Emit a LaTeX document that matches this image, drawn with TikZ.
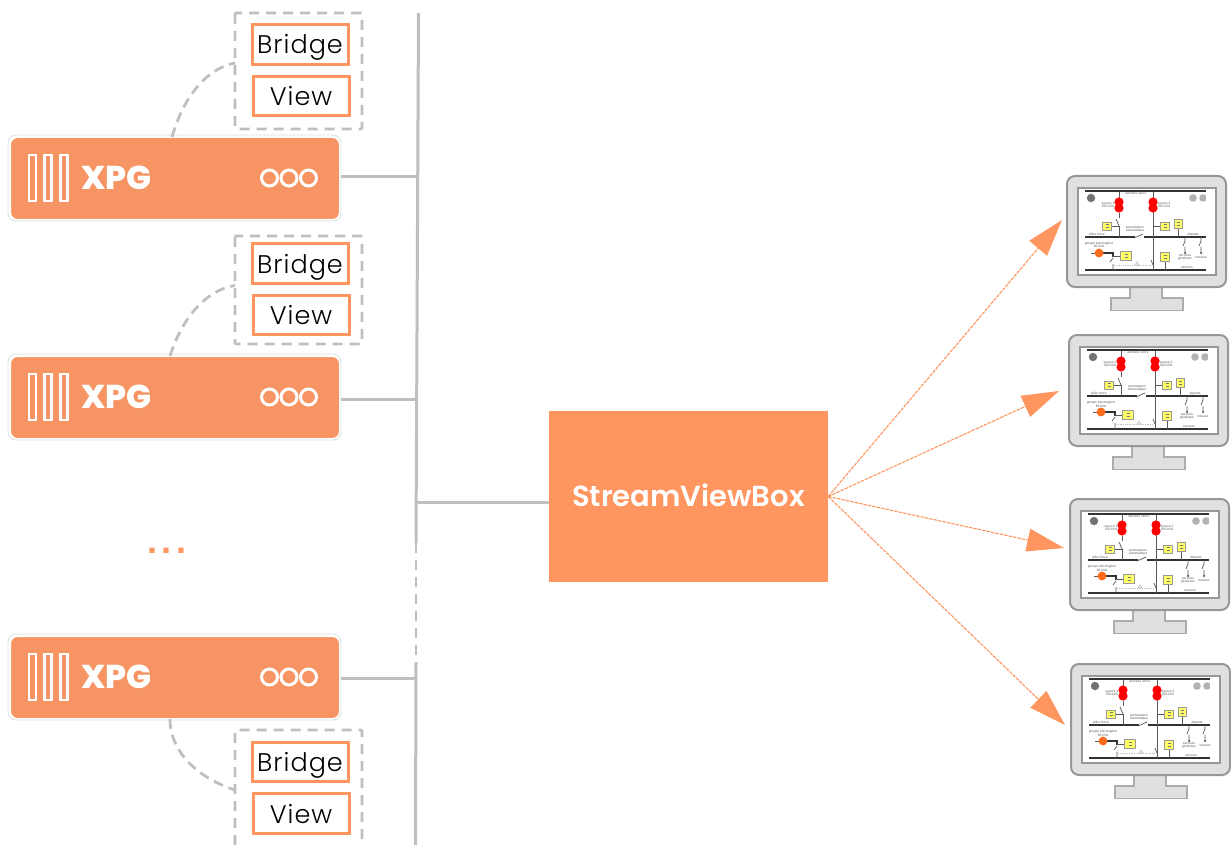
\documentclass[tikz,border=0pt]{standalone}
\usepackage{fontspec}
\usetikzlibrary{arrows.meta}
\setmainfont{Poppins}
\newfontfamily\tinyfont{Liberation Sans}
\newfontfamily\dotfont{Liberation Sans}
\newfontfamily\partfont[LetterSpace=4]{Poppins Light}
\newfontfamily\heavyfont{Poppins ExtraBold}
\newfontfamily\streamfont{Poppins SemiBold}
\definecolor{svb}{HTML}{FF9660}
\definecolor{srv}{HTML}{F79463}
\definecolor{ln}{HTML}{BFBFBF}
\definecolor{mon}{HTML}{E0E0E0}
\definecolor{monb}{HTML}{979797}
\definecolor{yel}{HTML}{FFFF66}
\tikzset{
  x=1pt,y=-1pt,
  wire/.style={draw=ln,line width=3pt},
  dashwire/.style={draw=ln,line width=2.8pt,dash pattern=on 10pt off 7pt},
  server/.style={draw=white,fill=srv,rounded corners=7pt,line width=1pt,minimum width=329pt,minimum height=82pt,inner sep=0pt},
  halo/.style={draw=black!13,line width=.8pt,rounded corners=8pt},
  part/.style={draw=svb,fill=white,line width=3pt,minimum width=96pt,minimum height=39.5pt,inner sep=0pt,font=\partfont\fontsize{25.5}{25.5}\selectfont,text height=19pt,text depth=0pt,text=black},
  xpgtext/.style={text=white,font=\heavyfont\fontsize{33}{33}\selectfont,inner sep=0pt},
  stream/.style={arrows={-Triangle[length=37pt,width=23pt]},draw=svb,line width=1.1pt,dash pattern=on 3.5pt off 1pt},
  tinytext/.style={font=\tinyfont\fontsize{3.3}{3.6}\selectfont,text=black!65,inner sep=0pt,align=center},
  schem/.style={draw=black!80,line width=1.1pt},
  schemthin/.style={draw=black!65,line width=.7pt},
  yelbox/.style={draw=black!40,fill=yel,line width=.6pt,inner sep=0pt,align=center,font=\fontsize{2}{2.6}\selectfont},
}
\newcommand\yelmark{\textcolor{black!55}{\rule{3pt}{.5pt}}\\\textcolor{black!55}{\rule{3pt}{.5pt}}}
% XPG server: #1 node name, #2 top y
\newcommand\xpgserver[2]{
  \draw[halo] (8,#2-2) rectangle (341,#2+84);
  \node[server,anchor=north west] (#1) at (10,#2) {};
  \foreach \bx in {28,43.5,59.5}
    \draw[white,line width=2.6pt] (\bx+1,#2+18) rectangle (\bx+8,#2+64);
  \node[xpgtext] at (116.5,#2+41) {XPG};
  \foreach \cx in {269.5,289,308.5}
    \draw[white,line width=3pt] (\cx,#2+41) circle (8);
}
% monitor: #1 x, #2 y
\newcommand\screenmon[2]{
\begin{scope}[shift={(#1,#2)}]
  \path[fill=mon,draw=monb!80,line width=1.6pt] (63,111) -- (95,111) -- (95,122) -- (116,122) -- (116,134.5) -- (44,134.5) -- (44,122) -- (63,122) -- cycle;
  \path[fill=mon,draw=monb,line width=2pt,rounded corners=8pt] (0,0) rectangle (159,111);
  \path[fill=white,draw=monb,line width=2.6pt] (11,12) rectangle (149,99);
  % buses
  \draw[schem] (18,15) -- (139,15);
  \draw[schem] (18,61) -- (68,61);
  \draw[schemthin] (67,62) -- (76,58);
  \draw[schem] (77,61) -- (139,61);
  \draw[schem] (18,94) -- (139,94);
  % feeders
  \draw[schemthin] (52,15) -- (52,28) (52,37) -- (52,42) (52,50) -- (52,61);
  \draw[schemthin] (52,50) -- (49,43);
  \draw[schemthin] (86,15) -- (86,94);
  \draw[schemthin] (44.5,50) -- (52,50);
  \draw[schemthin] (86,50) -- (93,50);
  \draw[schemthin] (111,52) -- (111,61);
  \draw[schemthin] (118,61) -- (118,65) -- (116,70) (118,71) -- (118,77);
  \draw[schemthin] (134,61) -- (134,65) -- (132,70) (134,71) -- (134,77);
  \fill[black!80] (52,15) circle (1.2) (86,15) circle (1.2) (118,77) circle (1) (134,77) circle (1);
  % sources
  \fill[red] (52,26) circle (4.6) (52,32) circle (4.6) (86,26) circle (4.6) (86,32) circle (4.6);
  % buttons
  \fill[black!55] (24,22) circle (4.2);
  \fill[black!30] (126,22) circle (3.8) (136,22) circle (3.8);
  \fill[white] (139,17) rectangle (142,27);
  % generator
  \draw[schemthin] (24,77) -- (28,77);
  \draw[schem] (32,77) -- (46,77) -- (46,81);
  \draw[schemthin] (46,82) -- (43,86) (46,88) -- (46,94);
  \draw[schemthin] (46,80) -- (53,80);
  \draw[black!25,line width=.8pt,densely dotted] (47,89) -- (84,89);
  \draw[black!35,line width=.4pt] (68,89) -- (70,86) -- (72,89) -- cycle;
  \draw[schemthin] (84,84) -- (86,89);
  \fill[orange!70!red!90!white] (32,77) circle (4.4);
  \draw[schemthin] (98,85) -- (98,94);
  % yellow boxes
  \node[yelbox,minimum width=8.5pt,minimum height=8pt] at (40,50) {\yelmark};
  \node[yelbox,minimum width=8.5pt,minimum height=8pt] at (98,50) {\yelmark};
  \node[yelbox,minimum width=8pt,minimum height=8.5pt] at (111,48) {\yelmark};
  \node[yelbox,minimum width=11pt,minimum height=8.5pt] at (59,80) {\yelmark};
  \node[yelbox,minimum width=8.5pt,minimum height=8.5pt] at (98,81) {\yelmark};
  % labels
  \node[tinytext] at (69,17.2) {arrivées 30 kV};
  \node[tinytext] at (41,29) {source 1\\250 kVA};
  \node[tinytext] at (97,29) {source 2\\250 kVA};
  \node[tinytext] at (68,53) {permutation\\automatique};
  \node[tinytext] at (30,59) {pilier force};
  \node[tinytext] at (126,59) {départs};
  \node[tinytext] at (32,69) {groupe électrogène\\60 kVA};
  \node[tinytext] at (118,81) {services\\généraux};
  \node[tinytext] at (134,81) {travaux};
  \node[tinytext] at (120,92) {secours};
\end{scope}
}
\begin{document}
\begin{tikzpicture}
\useasboundingbox (0,0) rectangle (1231,845);

% trunk
\coordinate (t0) at (418.5,13);
\coordinate (t1) at (416,543);
\coordinate (t2) at (416,662);
\coordinate (t3) at (415.5,845);
\draw[wire] (t0) -- (t1);
\draw[dashwire] (t1) -- (t2);
\draw[wire] (t2) -- (t3);

% dashed groups
\draw[dashwire,rounded corners=1pt] (235,13) rectangle (362,129);
\draw[dashwire,rounded corners=1pt] (235,236) rectangle (362,344);
\draw[dashwire,rounded corners=1pt] (235,845) |- (362,730) -- (362,845);
\coordinate (g1) at (235,63);
\coordinate (g2) at (235,285.5);
\coordinate (g3) at (235,790);

% XPG servers
\xpgserver{s1}{137}
\xpgserver{s2}{356}
\xpgserver{s3}{636}

% parts
\node[part] (b1) at (300,44.5) {Bridge};
\node[part] (v1) at (301,96) {View};
\node[part] (b2) at (300,263.5) {Bridge};
\node[part] (v2) at (301,315) {View};
\node[part] (b3) at (300,762) {Bridge};
\node[part] (v3) at (301,813.5) {View};

% dots
\node[text=svb,font=\dotfont\bfseries\fontsize{36}{36}\selectfont,inner sep=0pt,anchor=base] (dots) at (167,553.5) {.\kern4.7pt.\kern4.7pt.};

% stream box
\node[fill=svb,minimum width=279pt,minimum height=171pt,inner sep=0pt,text=white,font=\streamfont\fontsize{29}{29}\selectfont,text height=20pt,text depth=0pt] (box) at (688.5,496.5) {StreamViewBox};

% wires
\coordinate (j1) at (418,177);
\coordinate (j2) at (417,399);
\coordinate (j3) at (416,502);
\coordinate (j4) at (415.5,678);
\coordinate (e1) at (341,177);
\coordinate (e2) at (341,399);
\coordinate (e3) at (341,678);
\draw[wire] (e1) -- (j1);
\draw[wire] (e2) -- (j2);
\draw[wire] (e3) -- (j4);
\draw[wire] (j3) -- (j3 -| box.west);

% bridge links
\coordinate (c1) at (172,137);
\coordinate (c2) at (170,356);
\coordinate (c3) at (170,719);
\draw[dashwire,dash pattern=on 10pt off 6pt] (c1) .. controls (184,95) and (208,68) .. (g1);
\draw[dashwire,dash pattern=on 10pt off 6pt] (c2) .. controls (182,318) and (206,290) .. (g2);
\draw[dashwire,dash pattern=on 10pt off 6pt] (c3) .. controls (170,752) and (198,778) .. (g3);

% monitors
\screenmon{1067}{176}
\screenmon{1069}{335}
\screenmon{1070}{499}
\screenmon{1071}{664}

% streams
\coordinate (tip1) at (1062,220);
\coordinate (tip2) at (1059,391);
\coordinate (tip3) at (1064,548);
\coordinate (tip4) at (1065,725);
\draw[stream] (box.east) -- (tip1);
\draw[stream] (box.east) -- (tip2);
\draw[stream] (box.east) -- (tip3);
\draw[stream] (box.east) -- (tip4);
\end{tikzpicture}
\end{document}
